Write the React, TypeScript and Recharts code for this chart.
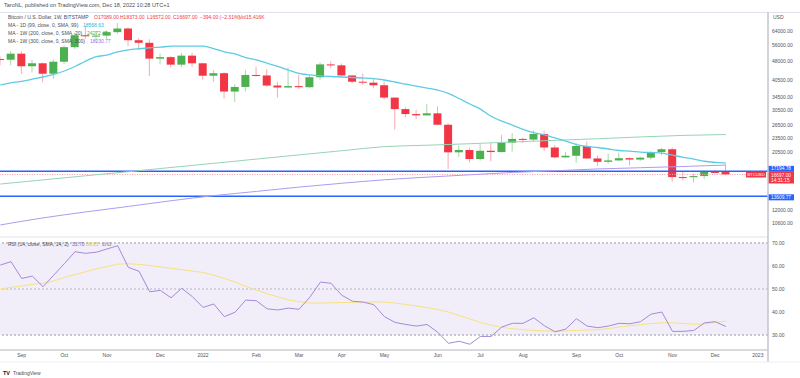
import React from 'react';
import { ComposedChart, Bar, Line, XAxis, YAxis, ReferenceLine, ReferenceArea } from 'recharts';

const FONT = '"Liberation Sans", Arial, sans-serif';

// weekly candles, Aug 23 2021 .. Dec 12 2022 (index = week number)
const opens = [49260, 48900, 51750, 46000, 47300, 42900, 48000, 55000, 61500, 60900, 61300, 63300, 65500, 58700, 57300, 49400, 50100, 46700, 50800, 47300, 42100, 43100, 36300, 37900, 42400, 42200, 38400, 37700, 38200, 37800, 41500, 46800, 46400, 42200, 39800, 39450, 38500, 34300, 30800, 29400, 29050, 29600, 26600, 20550, 21000, 19300, 20850, 20600, 22500, 23300, 23150, 24400, 21500, 19600, 19900, 21800, 19400, 18800, 19050, 19450, 19200, 19550, 20600, 21150, 16300, 16280, 16450, 17100, 17089];
const highs = [50500, 52900, 52900, 48800, 47600, 49000, 56000, 62900, 67000, 63700, 64300, 69000, 66300, 59800, 59200, 51900, 50500, 52100, 52100, 47500, 44400, 43500, 38900, 44500, 45800, 44700, 39800, 45400, 42500, 42400, 47700, 48200, 47200, 42400, 42900, 40800, 40000, 34300, 31300, 30600, 32300, 31600, 26900, 21900, 21500, 22400, 22400, 24200, 24600, 23600, 25200, 25200, 22000, 20600, 22400, 22700, 19900, 20300, 20500, 19600, 19700, 20800, 21400, 21500, 17200, 16800, 17300, 17400, 18373];
const lows = [46400, 46500, 42800, 43400, 39600, 40800, 46900, 54100, 59500, 58000, 59500, 62300, 55600, 53500, 42000, 46800, 45500, 45600, 45700, 40600, 39700, 34000, 32900, 36300, 41700, 38000, 34300, 37500, 37200, 37600, 40500, 45200, 42100, 39200, 38600, 37600, 33700, 25400, 28600, 28000, 29000, 26500, 17600, 19700, 18700, 19000, 18900, 20500, 20700, 22400, 22700, 20800, 19500, 19500, 18600, 19300, 18100, 18500, 19000, 18200, 18900, 19200, 20000, 15600, 15800, 15500, 16000, 16900, 16572];
const closes = [48900, 51750, 46000, 47300, 42900, 48000, 55000, 61500, 60900, 61300, 63300, 65500, 58700, 57300, 49400, 50100, 46700, 50800, 47300, 42100, 43100, 36300, 37900, 42400, 42200, 38400, 37700, 38200, 37800, 41500, 46800, 46400, 42200, 39800, 39450, 38500, 34300, 30800, 29400, 29050, 29600, 26600, 20550, 21000, 19300, 20850, 20600, 22500, 23300, 23150, 24400, 21500, 19600, 19900, 21800, 19400, 18800, 19050, 19450, 19200, 19550, 20600, 21150, 16300, 16280, 16450, 17100, 17089, 16697];

// moving averages
const ma99d = [38600, 39400, 39900, 40800, 41600, 42600, 44000, 45900, 48300, 50300, 51100, 52600, 53600, 54200, 54700, 55000, 55500, 55500, 55500, 55500, 54300, 52600, 51600, 49900, 48800, 47400, 45900, 44400, 43000, 42400, 42000, 41800, 41600, 41400, 41200, 41000, 40450, 39700, 38900, 38200, 37500, 36800, 35700, 34000, 32300, 30800, 28800, 27500, 26500, 25500, 24700, 24200, 23500, 22800, 22100, 21700, 21500, 21200, 20900, 20800, 20600, 20500, 20400, 20000, 19600, 19300, 18900, 18700, 18568.63];
const maLongIdx = [0, 4, 8, 12, 16, 20, 24, 28, 32, 36, 40, 44, 48, 52, 56, 60, 64, 68];
const ma200w = [15270, 15870, 16500, 17140, 17830, 18540, 19290, 20060, 20860, 21680, 21960, 22270, 22640, 22990, 23340, 23730, 24080, 24272.45];
const ma300w = [10410, 11120, 11760, 12380, 13060, 13700, 14250, 14840, 15380, 15890, 16290, 16650, 17020, 17300, 17590, 17790, 18000, 18230.77];

// RSI pane
const rsi = [60.4, 61.9, 54.6, 55.6, 51, 56, 61, 66.2, 65.5, 66, 67.4, 68.8, 59.4, 57.7, 48.8, 49.4, 46.2, 50.3, 46.7, 42, 43.5, 38, 39.9, 45.2, 44.9, 41.4, 40.9, 41.7, 41.2, 46.4, 53, 52.5, 47.3, 44.7, 44.3, 43.2, 38, 35.5, 34.6, 33.9, 34.6, 31.2, 26.4, 27.3, 26, 29.4, 29.4, 33.5, 35.1, 35.1, 37.5, 34, 31.4, 32.6, 37.1, 33.9, 33.2, 33.9, 35.1, 34.9, 35.8, 39.1, 40, 31.6, 31.6, 32, 35.3, 35.8, 33.7];
const rsiSma = [50, 50.7, 51.3, 52, 52.5, 53.5, 55, 56.3, 57.5, 58.8, 59.8, 60.8, 61, 60.7, 60.2, 59.6, 59, 58.4, 57.8, 57.2, 56, 54.6, 53, 51.2, 49.5, 48, 46.6, 45.3, 44.5, 43.9, 43.9, 44, 44.1, 44.2, 44.3, 44.4, 44.3, 43.9, 43.3, 42.6, 41.9, 41.1, 40, 38.5, 37, 35.5, 34.3, 33.3, 32.8, 32.3, 32, 31.8, 31.7, 31.8, 32, 32.2, 32.3, 32.8, 33.5, 34, 34.5, 35, 35.3, 35.3, 35, 34.7, 34.8, 35.5, 36.05];

// axes
const monthTicks = [2, 6, 10, 15, 19, 24, 28, 32, 36, 41, 45, 49, 54, 58, 63, 67, 71];
const monthLabels = ['Sep', 'Oct', 'Nov', 'Dec', '2022', 'Feb', 'Mar', 'Apr', 'May', 'Jun', 'Jul', 'Aug', 'Sep', 'Oct', 'Nov', 'Dec', '2023'];
const priceTicks = [10600, 12000, 20500, 23500, 26500, 30500, 34500, 40500, 48000, 56000, 64000];
const rsiTicks = [30, 40, 50, 60, 70];
const supportHigh = 17194.78;
const supportLow = 13609.77;
const lastPrice = 16697;

const X_DOMAIN: [number, number] = [-0.03, 71.95];

const priceRows = opens.map((o, i) => {
  const k = maLongIdx.indexOf(i);
  return {
    i,
    open: o,
    high: highs[i],
    low: lows[i],
    close: closes[i],
    range: [lows[i], highs[i]],
    ma99: ma99d[i],
    ma200: k >= 0 ? ma200w[k] : null,
    ma300: k >= 0 ? ma300w[k] : null,
  };
});

const rsiRows = rsi.map((v, i) => ({ i, rsi: v, sma: rsiSma[i] }));

const Candle = (props: any) => {
  const { x, y, width, height } = props;
  const d = props.payload ?? props;
  if (!d || !isFinite(y) || !isFinite(height)) return null;
  const top = Math.min(y, y + height);
  const h = Math.abs(height);
  const lh = Math.log(d.high);
  const ll = Math.log(d.low);
  // log axis: pixel position is linear in ln(price) between high and low
  const toY = (v: number) => top + (h * (lh - Math.log(v))) / (lh - ll);
  const up = d.close >= d.open;
  const yo = toY(d.open);
  const yc = toY(d.close);
  const cx = x + width / 2;
  return (
    <g>
      <line x1={cx} x2={cx} y1={top} y2={top + h} stroke={up ? '#a8d8aa' : '#f7a8b2'} strokeWidth={1} />
      <rect x={x} y={Math.min(yo, yc)} width={width} height={Math.max(1, Math.abs(yc - yo))} fill={up ? '#4caf50' : '#f23645'} />
    </g>
  );
};

// price-scale tag; shift moves the box up/down from its line so stacked tags don't collide
const AxisTag = ({ viewBox, color, text, sub, paneTag, shift = 0 }: any) => {
  if (!viewBox) return null;
  const right = viewBox.x + viewBox.width;
  const y = viewBox.y;
  const h = sub ? 11.5 : 6;
  const top = y - 3 + shift;
  return (
    <g fontFamily={FONT}>
      {paneTag && (
        <g>
          <rect x={right - 22} y={y - 2.5} width={20} height={5.5} fill={color} />
          <text x={right - 12} y={y + 1.6} fontSize={4.3} fill="#fff" textAnchor="middle">{paneTag}</text>
        </g>
      )}
      <rect x={right} y={top} width={26} height={h} fill={color} />
      <text x={right + 3} y={top + 4.6} fontSize={4.8} fill="#fff">{text}</text>
      {sub && <text x={right + 3} y={top + 10.2} fontSize={4.8} fill="#fff">{sub}</text>}
    </g>
  );
};

const tickStyle = { fontSize: 5, fill: '#50535e', fontFamily: FONT };

export default function App() {
  return (
    <div style={{ position: 'absolute', left: 0, top: 0, width: 800, height: 378, background: '#fff', overflow: 'hidden' }}>
      <style>{'body{margin:0;background:#fff}'}</style>
      <div style={{ position: 'absolute', left: 0, top: 12 }}>
        <ComposedChart width={800} height={225} data={priceRows} margin={{ top: 0, right: 0, bottom: 0, left: 0 }}>
          <XAxis dataKey="i" type="number" domain={X_DOMAIN} allowDataOverflow hide />
          <YAxis
            orientation="right"
            width={32}
            scale="log"
            domain={[9300, 76450]}
            allowDataOverflow
            ticks={priceTicks}
            interval={0}
            tickFormatter={(v: number) => v.toFixed(2)}
            axisLine={false}
            tickLine={false}
            tickSize={0}
            tickMargin={4}
            tick={tickStyle}
          />
          <ReferenceLine y={supportLow} stroke="#2962ff" strokeWidth={1.5} label={<AxisTag color="#2962ff" text="13609.77" shift={1} />} />
          <ReferenceLine y={lastPrice} stroke="#f7a1ab" strokeWidth={1} strokeDasharray="1 1.5" label={<AxisTag color="#f23645" text="16697.00" sub="14:31:15" paneTag="BTCUSD" shift={0.5} />} />
          <ReferenceLine y={supportHigh} stroke="#2962ff" strokeWidth={1.5} label={<AxisTag color="#2962ff" text="17194.78" shift={-2.5} />} />
          <Line dataKey="ma300" type="monotone" stroke="#b09af2" strokeWidth={1} dot={false} connectNulls isAnimationActive={false} />
          <Line dataKey="ma200" type="monotone" stroke="#96d4b4" strokeWidth={1} dot={false} connectNulls isAnimationActive={false} />
          <Bar dataKey="range" barSize={8} shape={<Candle />} isAnimationActive={false} />
          <Line dataKey="ma99" type="monotone" stroke="#5fcbe3" strokeWidth={1.3} dot={false} isAnimationActive={false} />
        </ComposedChart>
      </div>
      <div style={{ position: 'absolute', left: 0, top: 237 }}>
        <ComposedChart width={800} height={125} data={rsiRows} margin={{ top: 0, right: 0, bottom: 0, left: 0 }}>
          <XAxis
            dataKey="i"
            type="number"
            domain={X_DOMAIN}
            allowDataOverflow
            ticks={monthTicks}
            interval={0}
            tickFormatter={(v: number) => monthLabels[monthTicks.indexOf(v)]}
            height={12}
            axisLine={{ stroke: '#b2b5be', strokeWidth: 1.2 }}
            tickLine={false}
            tickSize={0}
            tickMargin={3}
            tick={tickStyle}
          />
          <YAxis
            orientation="right"
            width={32}
            domain={[23.5, 72.6]}
            allowDataOverflow
            ticks={rsiTicks}
            interval={0}
            tickFormatter={(v: number) => v.toFixed(2)}
            axisLine={false}
            tickLine={false}
            tickSize={0}
            tickMargin={4}
            tick={tickStyle}
          />
          <ReferenceArea y1={30} y2={70} fill="#7e57c2" fillOpacity={0.1} stroke="none" />
          <ReferenceLine y={70} stroke="#9598a1" strokeDasharray="2 2" />
          <ReferenceLine y={50} stroke="#b2b5be" strokeDasharray="2 2" />
          <ReferenceLine y={30} stroke="#9598a1" strokeDasharray="2 2" />
          <Line dataKey="sma" type="linear" stroke="#f7e27e" strokeWidth={1} dot={false} isAnimationActive={false} />
          <Line dataKey="rsi" type="linear" stroke="#a48ad8" strokeWidth={1} dot={false} isAnimationActive={false} />
        </ComposedChart>
      </div>
      <svg width={800} height={378} style={{ position: 'absolute', left: 0, top: 0, pointerEvents: 'none' }} fontFamily={FONT}>
        <line x1={0} x2={800} y1={12.5} y2={12.5} stroke="#e0e3eb" />
        <line x1={0} x2={768} y1={237} y2={237} stroke="#e0e3eb" />
        <line x1={768} x2={768} y1={12} y2={362} stroke="#c1c4cc" strokeWidth={1.5} />
        <line x1={0} x2={800} y1={362} y2={362} stroke="#eceef2" />
        <text x={4} y={7.3} fontSize={5.5} fill="#4a4d57">TaroNL, published on TradingView.com, Dec 18, 2022 10:28 UTC+1</text>
        <text x={773} y={18.5} fontSize={5} fill="#50535e">USD</text>

        <text x={8} y={18.6} fontSize={5} fill="#4a4d57">Bitcoin / U.S. Dollar, 1W, BITSTAMP</text>
        <text x={94} y={18.6} fontSize={5} fill="#f23645">O17089.00</text>
        <text x={120} y={18.6} fontSize={5} fill="#f23645">H18373.00</text>
        <text x={147} y={18.6} fontSize={5} fill="#f23645">L16572.00</text>
        <text x={173} y={18.6} fontSize={5} fill="#f23645">C16697.00</text>
        <text x={200} y={18.6} fontSize={5} fill="#f23645">−394.00 (−2.31%)</text>
        <text x={239} y={18.6} fontSize={5} fill="#f23645">Vol15.416K</text>

        <text x={8} y={26.8} fontSize={5} fill="#4a4d57">MA - 1D (99, close, 0, SMA, 99)</text>
        <text x={83} y={26.8} fontSize={5} fill="#26b9d4">18568.63</text>
        <text x={8} y={34.8} fontSize={5} fill="#4a4d57">MA - 1W (200, close, 0, SMA, 20)</text>
        <text x={87} y={34.8} fontSize={5} fill="#4caf50">24272.45</text>
        <text x={8} y={42.8} fontSize={5} fill="#4a4d57">MA - 1W (300, close, 0, SMA, 300)</text>
        <text x={90} y={42.8} fontSize={5} fill="#9c6ff0">18230.77</text>

        <text x={8} y={245.8} fontSize={5} fill="#4a4d57">RSI (14, close, SMA, 14, 2)</text>
        <text x={72} y={245.8} fontSize={5} fill="#7e57c2">33.70</text>
        <text x={86} y={245.8} fontSize={5} fill="#e0c236">36.05</text>
        <text x={102} y={245.8} fontSize={5} fill="#4a4d57">∅  ∅</text>

        <text x={3} y={374.5} fontSize={5.5} fontWeight="bold" fill="#131722">TV</text>
        <text x={13} y={374.5} fontSize={5} fill="#4a4d57">TradingView</text>
      </svg>
    </div>
  );
}
